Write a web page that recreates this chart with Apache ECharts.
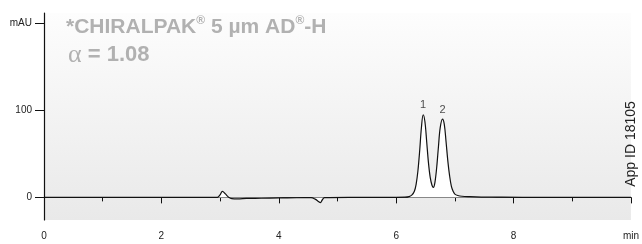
<!DOCTYPE html>
<html>
<head>
<meta charset="utf-8">
<script src="https://cdn.jsdelivr.net/npm/echarts@6/dist/echarts.min.js"></script>
<style>
  html, body { margin: 0; padding: 0; background: #fff; }
  #chart { width: 642px; height: 244px; }
</style>
</head>
<body>
<div id="chart"></div>
<script>
// 色谱图数据 (时间 min, 信号 mAU)
var times = [0, 1, 2, 2.95, 3.0, 3.04, 3.09, 3.15, 3.2, 3.3, 3.45, 3.7, 4.0, 4.3, 4.55, 4.62, 4.68, 4.71, 4.74, 4.78, 5.2, 5.8,
  6.15, 6.22, 6.27, 6.31, 6.34, 6.37, 6.40, 6.43, 6.46, 6.49, 6.52, 6.55, 6.58, 6.61, 6.635,
  6.66, 6.69, 6.72, 6.75, 6.79, 6.82, 6.85, 6.88, 6.91, 6.94, 6.97, 7.00, 7.05, 7.12, 7.25, 7.45, 7.8, 8.5, 9.2, 10];
var signal = [0, 0, 0, 0, 3, 7, 4, 0, -1.5, -1.8, -1.2, -1, -0.6, -0.4, -0.3, -2, -5, -6, -3, -0.3, 0, 0,
  0.2, 0.8, 2.8, 7, 15, 30, 53, 80, 95, 87, 64, 40, 23, 14, 11.5,
  17, 34, 58, 80, 90, 84, 64, 42, 25, 13, 7, 3.8, 2.2, 1.3, 0.8, 0.4, 0.2, 0, 0, 0];
// 峰标注
var peakLabels = ["1", "2"];
var peakTimes = [6.46, 6.79];
var peakHeights = [95, 90];
// 坐标轴刻度
var yTicks = [0, 100, 200];
var xLabels = {0: "0", 2: "2", 4: "4", 6: "6", 8: "8", 10: "min"};

var lineData = times.map(function (t, i) { return [t, signal[i]]; });
var peakData = peakTimes.map(function (t, i) {
  return { value: [t, peakHeights[i]], label: { formatter: peakLabels[i] } };
});

var grey = '#b1b1b1';
var chart = echarts.init(document.getElementById('chart'));
chart.setOption({
  animation: false,
  backgroundColor: '#fff',
  textStyle: { fontFamily: 'Liberation Sans' },
  title: [
    {
      left: 61, top: 10,
      text: '{a|*CHIRALPAK}{s|®}{a| 5 µm AD}{s|®}{a|-H}',
      textStyle: {
        rich: {
          a: { fontSize: 21, color: grey, fontFamily: 'Liberation Sans', lineHeight: 24 },
          s: { fontSize: 12, color: grey, fontFamily: 'Liberation Sans', verticalAlign: 'top', lineHeight: 24 }
        }
      }
    },
    {
      left: 63, top: 36,
      text: '{g|α}{a| = 1.08}',
      textStyle: {
        rich: {
          g: { fontSize: 26, color: grey, fontFamily: 'Liberation Serif', fontWeight: 'normal', lineHeight: 28 },
          a: { fontSize: 22, color: grey, fontFamily: 'Liberation Sans', lineHeight: 28 }
        }
      }
    }
  ],
  graphic: [
    {
      type: 'text', x: 631, y: 144, rotation: Math.PI / 2,
      style: { text: 'App ID 18105', font: '14px Liberation Sans', fill: '#222', align: 'center', verticalAlign: 'middle' }
    }
  ],
  grid: {
    left: 44, right: 2, top: 13, bottom: 24,
    show: true, borderWidth: 0,
    backgroundColor: new echarts.graphic.LinearGradient(0, 0, 0, 1, [
      { offset: 0, color: '#fdfdfd' },
      { offset: 1, color: '#e9e9e9' }
    ])
  },
  xAxis: {
    type: 'value', min: 0, max: 10, interval: 2,
    axisLine: { lineStyle: { color: '#111', width: 1.2 } },
    axisTick: { length: 6, lineStyle: { color: '#111' } },
    minorTick: { show: true, splitNumber: 2, length: 4, lineStyle: { color: '#111' } },
    axisLabel: {
      fontSize: 10, color: '#222', margin: 11,
      formatter: function (v) { return xLabels[Math.round(v)]; }
    },
    splitLine: { show: false }
  },
  yAxis: {
    type: 'value', min: -26, max: 212,
    axisLine: { show: true, onZero: false, lineStyle: { color: '#111', width: 1.2 } },
    axisTick: { show: true, length: 9, customValues: yTicks, lineStyle: { color: '#111' } },
    axisLabel: {
      fontSize: 10, color: '#222', margin: 12, customValues: yTicks,
      formatter: function (v) { return v === 200 ? 'mAU' : String(v); }
    },
    splitLine: { show: false }
  },
  series: [
    {
      type: 'line', data: lineData, smooth: 0.35, symbol: 'none',
      lineStyle: { color: '#111', width: 1.2 },
      areaStyle: { color: '#ffffff', opacity: 1, origin: 'auto' }
    },
    {
      type: 'scatter', data: peakData, symbolSize: 0, silent: true,
      label: { show: true, position: 'top', distance: 4, fontSize: 11, color: '#222' }
    }
  ]
});
</script>
</body>
</html>
